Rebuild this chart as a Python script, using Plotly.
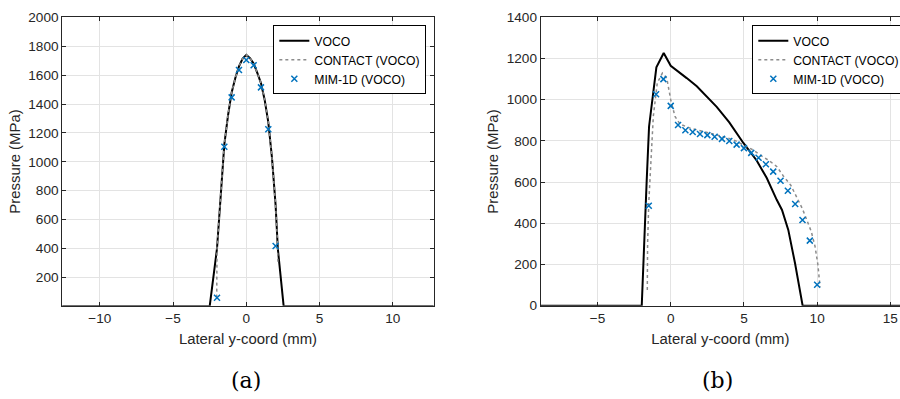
import plotly.graph_objects as go

# ---------------- data: panel (a) ----------------
a_voco_x = [-12.6, -2.5, -2.0, -1.75, -1.5, -1.25, -1.0, -0.75, -0.5, -0.25, 0.0,
            0.25, 0.5, 0.75, 1.0, 1.25, 1.5, 1.75, 2.0, 2.15, 2.55, 12.8]
a_voco_y = [0, 0, 400, 770, 1120, 1320, 1480, 1580, 1660, 1715, 1740,
            1718, 1680, 1615, 1545, 1430, 1275, 1030, 700, 400, 0, 0]
a_contact_x = [-2.02, -2.0, -1.75, -1.5, -1.25, -1.0, -0.75, -0.5, -0.25, 0.0,
               0.25, 0.5, 0.75, 1.0, 1.25, 1.5, 1.75, 2.0, 2.12, 2.16]
a_contact_y = [60, 400, 770, 1120, 1320, 1480, 1580, 1660, 1715, 1740,
               1718, 1680, 1615, 1545, 1430, 1275, 1030, 700, 460, 290]
a_mim_x = [-2.0, -1.5, -1.0, -0.5, 0.0, 0.5, 1.0, 1.5, 2.0]
a_mim_y = [59, 1104, 1446, 1635, 1704, 1668, 1515, 1225, 417]

# ---------------- data: panel (b) ----------------
b_voco_x = [-8.9, -1.98, -1.64, -1.48, -0.98, -0.48, 0.0, 0.64, 1.09, 1.78, 2.5,
            3.14, 4.0, 4.96, 5.87, 6.56, 7.24, 7.6, 8.03, 8.49, 9.01, 15.7]
b_voco_y = [0, 0, 611, 870, 1157, 1227, 1165, 1127, 1105, 1065, 1013,
            965, 890, 790, 705, 620, 514, 465, 368, 206, 0, 0]
b_contact_x = [-1.6, -1.58, -1.5, -1.37, -1.19, -0.92, -0.57, -0.27, 0.0, 0.29,
               0.64, 1.32, 2.23, 3.37, 4.3, 4.96, 5.6, 6.1, 6.7, 7.24, 7.69,
               8.2, 8.6, 9.0, 9.29, 9.6, 9.86, 10.05, 10.2]
b_contact_y = [76, 300, 500, 660, 919, 1081, 1129, 1105, 1000, 919,
               881, 862, 846, 825, 805, 781, 757, 732, 705, 676, 630,
               585, 530, 470, 417, 360, 287, 200, 90]
b_mim_x = [-1.5, -1.0, -0.5, 0.0, 0.5, 1.0, 1.5, 2.0, 2.5, 3.0, 3.5, 4.0,
           4.5, 5.0, 5.5, 6.0, 6.5, 7.0, 7.5, 8.0, 8.5, 9.0, 9.5, 10.0]
b_mim_y = [485, 1027, 1100, 970, 877, 852, 843, 834, 828, 820, 810, 800,
           782, 765, 742, 718, 687, 651, 607, 558, 494, 416, 316, 102]

names = ["VOCO", "CONTACT (VOCO)", "MIM-1D (VOCO)"]
captions = ["(a)", "(b)"]

BLUE = "#0072BD"
TXT = "#262626"
GRID = "#e3e3e3"
FONT = "Liberation Sans, Arial, sans-serif"

fig = go.Figure()


def add_panel(xa, ya, leg, vx, vy, cx, cy, mx, my):
    fig.add_trace(go.Scatter(x=vx, y=vy, mode="lines", name=names[0],
                             line=dict(color="black", width=2),
                             xaxis=xa, yaxis=ya, legend=leg))
    fig.add_trace(go.Scatter(x=cx, y=cy, mode="lines", name=names[1],
                             line=dict(color="#8c8c8c", width=1.5, dash="dot"),
                             xaxis=xa, yaxis=ya, legend=leg))
    fig.add_trace(go.Scatter(x=mx, y=my, mode="markers", name=names[2],
                             marker=dict(symbol="x-thin", size=6,
                                         line=dict(color=BLUE, width=1.5),
                                         color=BLUE),
                             xaxis=xa, yaxis=ya, legend=leg))


add_panel("x", "y", "legend", a_voco_x, a_voco_y, a_contact_x, a_contact_y, a_mim_x, a_mim_y)
add_panel("x2", "y2", "legend2", b_voco_x, b_voco_y, b_contact_x, b_contact_y, b_mim_x, b_mim_y)

ydom = [0.2338, 0.9566]
axis_common = dict(showgrid=True, gridcolor=GRID, gridwidth=1, zeroline=False,
                   showline=True, linecolor=TXT, linewidth=1, automargin=False,
                   ticks="inside", ticklen=4, tickcolor=TXT,
                   tickfont=dict(family=FONT, size=13.6, color=TXT))
title_font = dict(family=FONT, size=14.9, color=TXT)

legend_common = dict(xanchor="left", yanchor="top",
                     bgcolor="white", bordercolor="black", borderwidth=1,
                     font=dict(family=FONT, size=12.2, color="black"),
                     tracegroupgap=0, itemwidth=30)

fig.update_layout(
    width=900, height=399,
    margin=dict(l=0, r=0, t=0, b=0, autoexpand=False),
    paper_bgcolor="white", plot_bgcolor="white",
    showlegend=True,
    xaxis=dict(domain=[0.0692, 0.4819], range=[-12.56, 12.79], tickvals=[-10, -5, 0, 5, 10],
               mirror="ticks", anchor="y",
               title=dict(text="Lateral y-coord (mm)", font=title_font, standoff=8), **axis_common),
    yaxis=dict(domain=ydom, range=[4, 2000], tickvals=list(range(200, 2001, 200)),
               mirror="ticks", anchor="x",
               title=dict(text="Pressure (MPa)", font=title_font, standoff=4), **axis_common),
    xaxis2=dict(domain=[0.6008, 1.0], range=[-8.88, 15.66], tickvals=[-5, 0, 5, 10, 15],
                mirror="ticks", anchor="y2",
                title=dict(text="Lateral y-coord (mm)", font=title_font, standoff=8), **axis_common),
    yaxis2=dict(domain=ydom, range=[0, 1400], tickvals=list(range(0, 1401, 200)),
                mirror=False, anchor="x2",
                title=dict(text="Pressure (MPa)", font=title_font, standoff=4), **axis_common),
    legend=dict(x=0.3037, y=0.9366, **legend_common),
    legend2=dict(x=0.8359, y=0.9366, **legend_common),
)

for cap, cx in zip(captions, [246.3 / 900, 717.7 / 900]):
    fig.add_annotation(text=cap, x=cx, y=(399 - 380) / 399, xref="paper", yref="paper",
                       xanchor="center", yanchor="middle", showarrow=False,
                       font=dict(family="DejaVu Serif, serif", size=22, color="black"))

# remove the browser's default 8px page margin so the figure sits at the window origin
fig.write_html("out.html",
               config={"displayModeBar": False},
               post_script="document.body.style.margin='0';document.body.style.overflow='hidden';")
